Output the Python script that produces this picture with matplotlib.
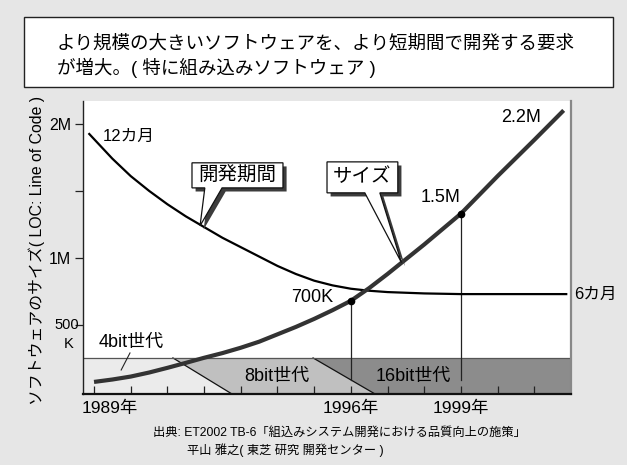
import matplotlib
matplotlib.use("Agg")
import matplotlib.pyplot as plt
from matplotlib.patches import Polygon, Rectangle
from matplotlib import patheffects as pe
from matplotlib.transforms import ScaledTranslation, blended_transform_factory

plt.rcParams['font.family'] = ['Liberation Sans', 'Noto Sans CJK JP']

# ---- data (values in millions of LOC, years) ----
size_years = [1989.0, 1989.5, 1990, 1990.5, 1991, 1991.5, 1992, 1992.5, 1993, 1993.5, 1994, 1994.5,
              1995, 1995.5, 1996, 1996.5, 1997, 1997.5, 1998, 1998.5, 1999, 1999.5, 2000, 2000.5,
              2001, 2001.8]
size_vals = [0.075, 0.093, 0.115, 0.145, 0.18, 0.217, 0.255, 0.29, 0.33, 0.375, 0.43, 0.485,
             0.545, 0.61, 0.68, 0.775, 0.88, 0.99, 1.10, 1.215, 1.33, 1.47, 1.61, 1.745,
             1.88, 2.10]

period_years = [1988.85, 1989.5, 1990, 1990.5, 1991, 1991.5, 1992, 1992.5, 1993, 1993.5, 1994,
                1994.5, 1995, 1995.5, 1996, 1996.5, 1997, 1998, 1999, 2000, 2001, 2001.9]
period_vals = [1.93, 1.74, 1.61, 1.50, 1.40, 1.31, 1.23, 1.15, 1.08, 1.01, 0.94,
               0.88, 0.83, 0.795, 0.77, 0.755, 0.745, 0.735, 0.73, 0.73, 0.73, 0.73]

marker_years = [1996, 1999]
marker_vals = [0.68, 1.33]
marker_labels = ['700K', '1.5M']

ytick_vals = [0.5, 1.0, 1.5, 2.0]
ytick_labels = ['', '1M', '', '2M']
xtick_years = list(range(1989, 2002))
xtick_labels = {1989: '1989年', 1996: '1996年', 1999: '1999年'}

# generation bands
gen_labels = ['4bit世代', '8bit世代', '16bit世代']
gen_bounds_top = [1991.15, 1994.97]
gen_bounds_bot = [1992.76, 1996.66]
gen_colors = ['#ebebeb', '#c0c0c0', '#8c8c8c']
band_top = 0.254

title_lines = ['より規模の大きいソフトウェアを、より短期間で開発する要求',
               'が増大。( 特に組み込みソフトウェア )']
ylabel = 'ソフトウェアのサイズ( LOC: Line of Code )'
source_lines = ['出典: ET2002 TB-6「組込みシステム開発における品質向上の施策」',
                '平山 雅之( 東芝 研究 開発センター )']

BG = '#e6e6e6'
fig = plt.figure(figsize=(6.27, 4.65), dpi=100, facecolor=BG)
ax = fig.add_axes([0.1324, 0.1527, 0.7783, 0.6301])
ax.set_facecolor('white')
XL = (1988.7, 2002.0)
YL = (-0.015, 2.17)
ax.set_xlim(*XL)
ax.set_ylim(*YL)

# title box
fig.patches.append(Rectangle((0.0383, 0.8129), 0.9394, 0.1505, transform=fig.transFigure,
                             facecolor='white', edgecolor='#222222', linewidth=1.0))
fig.text(0.0909, 0.9054, title_lines[0], fontsize=13.3, va='center', ha='left')
fig.text(0.0909, 0.8538, title_lines[1], fontsize=13.3, va='center', ha='left')

# bands
lefts_top = [XL[0]] + gen_bounds_top
lefts_bot = [XL[0]] + gen_bounds_bot
rights_top = gen_bounds_top + [XL[1]]
rights_bot = gen_bounds_bot + [XL[1]]
for i in range(3):
    poly = Polygon([(lefts_top[i], band_top), (rights_top[i], band_top),
                    (rights_bot[i], YL[0]), (lefts_bot[i], YL[0])],
                   closed=True, facecolor=gen_colors[i], edgecolor='none', zorder=1)
    ax.add_patch(poly)
for t, b in zip(gen_bounds_top, gen_bounds_bot):
    ax.plot([t, b], [band_top, YL[0]], color='#111111', lw=0.9, zorder=1.5)
ax.plot(XL, [band_top, band_top], color='#555555', lw=0.9, zorder=1.5)

# generation labels
ax.text(1990.02, 0.366, gen_labels[0], fontsize=13, ha='center', va='center', zorder=4)
ax.plot([1989.98, 1989.74], [0.291, 0.164], color='#222222', lw=0.8, zorder=4)
ax.text(1993.99, 0.119, gen_labels[1], fontsize=13, ha='center', va='center', zorder=4)
ax.text(1997.69, 0.119, gen_labels[2], fontsize=13, ha='center', va='center', zorder=4)

# vertical drop lines
for xv, yv in zip(marker_years, marker_vals):
    ax.plot([xv, xv], [yv, 0.09], color='#222222', lw=0.9, zorder=2)

# curves
ax.plot(period_years, period_vals, color='black', lw=1.6, zorder=3, solid_capstyle='butt',
        solid_joinstyle='round')
ax.plot(size_years, size_vals, color='#333333', lw=3.0, zorder=3, solid_capstyle='butt',
        solid_joinstyle='round')
ax.plot(marker_years, marker_vals, 'o', color='black', ms=4.5, zorder=4)

# value labels
ax.text(1995.51, 0.701, marker_labels[0], fontsize=13, ha='right', va='center')
ax.text(1998.45, 1.448, marker_labels[1], fontsize=13, ha='center', va='center')
ax.text(2001.18, 2.045, '2.2M', fontsize=13, ha='right', va='center')
ax.text(1989.25, 1.903, '12カ月', fontsize=12, ha='left', va='center')
ax.text(2002.08, 0.726, '6カ月', fontsize=12, ha='left', va='center', clip_on=False)

# callouts
def callout(x0, x1, y0, y1, wl, wr, tip, label, fs):
    verts = [(x0, y1), (x1, y1), (x1, y0), (wr, y0), tip, (wl, y0), (x0, y0)]
    p = Polygon(verts, closed=True, facecolor='white', edgecolor='#111111', lw=0.9, zorder=5,
                path_effects=[pe.SimplePatchShadow(offset=(2.6, -2.6), shadow_rgbFace='#3c3c3c', alpha=1.0),
                              pe.Normal()])
    ax.add_patch(p)
    ax.text((x0 + x1) / 2, (y0 + y1) / 2, label, fontsize=fs, ha='center', va='center', zorder=6)

callout(1991.67, 1994.15, 1.522, 1.709, 1992.02, 1992.49, (1991.89, 1.239), '開発期間', 14)
callout(1995.35, 1997.28, 1.485, 1.716, 1996.38, 1996.79, (1997.38, 0.965), 'サイズ', 14)

# spines
ax.spines['top'].set_visible(False)
ax.spines['left'].set_color('#222222')
ax.spines['left'].set_linewidth(1.0)
ax.spines['bottom'].set_color('#111111')
ax.spines['bottom'].set_linewidth(1.6)
ax.spines['right'].set_color('#888888')
ax.spines['right'].set_linewidth(1.6)
for s in ax.spines.values():
    s.set_zorder(6)

# ticks
ax.set_xticks(xtick_years)
ax.set_xticklabels([xtick_labels.get(y, '') for y in xtick_years], fontsize=12.5)
ax.tick_params(axis='x', direction='in', length=5.5, width=0.9, color='#222222', pad=5)
lab0 = ax.get_xticklabels()[0]
lab0.set_transform(lab0.get_transform() + ScaledTranslation(0.16, 0, fig.dpi_scale_trans))

ax.set_yticks(ytick_vals)
ax.set_yticklabels(ytick_labels, fontsize=11.5)
ax.tick_params(axis='y', direction='out', length=6, width=0.9, color='#222222', pad=2.5)
trans = blended_transform_factory(ax.transAxes, ax.transData)
ax.text(-0.034, 0.5, '500', transform=trans, fontsize=10.5, ha='center', va='center')
ax.text(-0.030, 0.5, 'K', transform=trans + ScaledTranslation(0, -0.19, fig.dpi_scale_trans),
        fontsize=10.5, ha='center', va='center')

fig.text(0.059, 0.462, ylabel, rotation=90, fontsize=11.4, ha='center', va='center')

fig.text(153 / 627, 1 - 433 / 465, source_lines[0], fontsize=8.8, ha='left', va='center')
fig.text(187 / 627, 1 - 450 / 465, source_lines[1], fontsize=8.8, ha='left', va='center')

fig.savefig('out.png', dpi=100, facecolor=BG)
